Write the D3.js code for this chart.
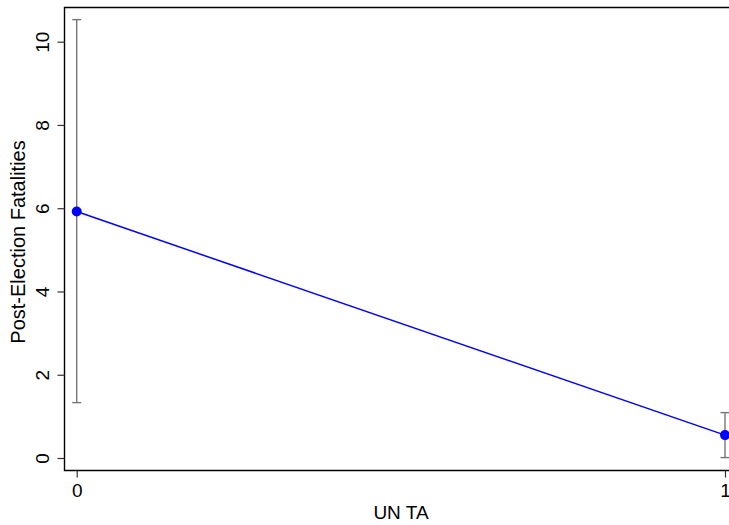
<!DOCTYPE html>
<html>
<head>
<meta charset="utf-8">
<script src="https://cdn.jsdelivr.net/npm/d3@7"></script>
<style>
  body { margin: 0; background: #fff; }
  svg { display: block; font-family: "Liberation Sans", Arial, sans-serif; }
</style>
</head>
<body>
<div id="chart"></div>
<script>
const groups = [0, 1];
const means = [5.92, 0.55];
const upper = [10.53, 1.09];
const lower = [1.33, 0.01];
const yTicks = [0, 2, 4, 6, 8, 10];

const width = 729, height = 525;
const svg = d3.select("#chart").append("svg")
    .attr("width", width)
    .attr("height", height);

// plot frame
const frameLeft = 64.5, frameTop = 7.5, frameBottom = 470.5, frameRight = 740;

const x = d3.scaleLinear().domain([0, 1]).range([76.7, 725]);
const y = d3.scaleLinear().domain([0, 10]).range([458, 41.7]);

// frame lines (left, top, bottom)
svg.append("path")
    .attr("d", `M${frameRight},${frameTop}H${frameLeft}V${frameBottom}H${frameRight}`)
    .attr("fill", "none")
    .attr("stroke", "#000")
    .attr("stroke-width", 1.4);

// y axis
const yAxis = svg.append("g")
    .attr("transform", `translate(${frameLeft},0)`)
    .call(d3.axisLeft(y).tickValues(yTicks).tickSize(7));
yAxis.select(".domain").remove();
yAxis.selectAll(".tick line").attr("stroke", "#333").attr("stroke-width", 1.2);
yAxis.selectAll(".tick text")
    .attr("font-size", 19)
    .attr("fill", "#000")
    .attr("text-anchor", "middle")
    .attr("transform", "rotate(-90)")
    .attr("x", 0)
    .attr("dy", 0)
    .attr("y", -15.5);

// x axis
const xAxis = svg.append("g")
    .attr("transform", `translate(0,${frameBottom})`)
    .call(d3.axisBottom(x).tickValues(groups).tickFormat(d3.format("d")).tickSize(7));
xAxis.select(".domain").remove();
xAxis.selectAll(".tick line").attr("stroke", "#333").attr("stroke-width", 1.2);
xAxis.selectAll(".tick text")
    .attr("font-size", 19)
    .attr("fill", "#000")
    .attr("dy", 0)
    .attr("y", 26.5);

// axis titles
svg.append("text")
    .attr("x", 401)
    .attr("y", 519)
    .attr("text-anchor", "middle")
    .attr("font-size", 19)
    .text("UN TA");

svg.append("text")
    .attr("transform", "translate(25,242) rotate(-90)")
    .attr("text-anchor", "middle")
    .attr("font-size", 20)
    .text("Post-Election Fatalities");

// error bars
const cap = 4.5;
const eb = svg.append("g").attr("stroke", "#777").attr("stroke-width", 1.4).attr("fill", "none");
groups.forEach((g, i) => {
    const cx = x(g);
    eb.append("line").attr("x1", cx).attr("x2", cx).attr("y1", y(upper[i])).attr("y2", y(lower[i]));
    eb.append("line").attr("x1", cx - cap).attr("x2", cx + cap).attr("y1", y(upper[i])).attr("y2", y(upper[i]));
    eb.append("line").attr("x1", cx - cap).attr("x2", cx + cap).attr("y1", y(lower[i])).attr("y2", y(lower[i]));
});

// line and markers
const line = d3.line().x((d, i) => x(groups[i])).y(d => y(d));
svg.append("path")
    .datum(means)
    .attr("d", line)
    .attr("fill", "none")
    .attr("stroke", "#0000ff")
    .attr("stroke-width", 1.5);

svg.selectAll("circle.pt")
    .data(means)
    .join("circle")
    .attr("class", "pt")
    .attr("cx", (d, i) => x(groups[i]))
    .attr("cy", d => y(d))
    .attr("r", 5)
    .attr("fill", "#0000ff");
</script>
</body>
</html>
